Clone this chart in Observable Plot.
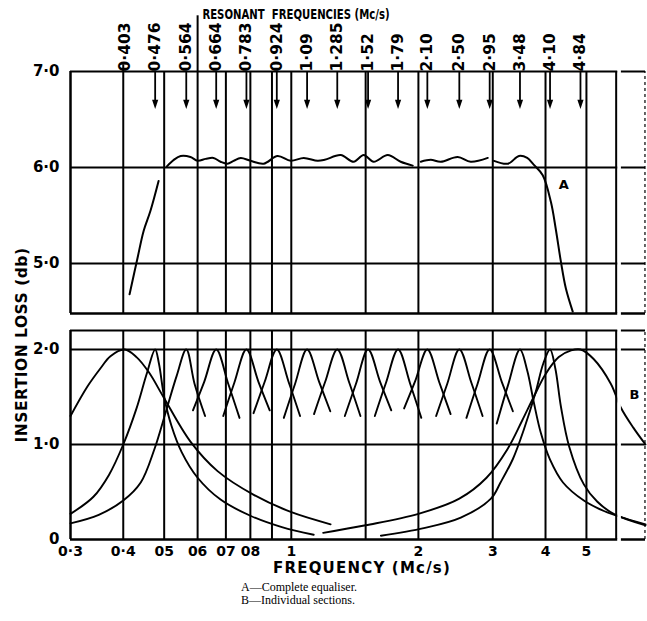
<!DOCTYPE html>
<html>
<head>
<meta charset="utf-8">
<script src="https://cdn.jsdelivr.net/npm/d3@7"></script>
<script src="https://cdn.jsdelivr.net/npm/@observablehq/plot@0.6"></script>
<style>
  body { margin: 0; background: #fff; }
  #fig { position: relative; width: 647px; height: 621px; background: #fff; overflow: hidden; }
  #top { position: absolute; left: 0; top: 0; }
  #bottom { position: absolute; left: 0; top: 322px; }
  .lab { position: absolute; white-space: nowrap; color: #000; font-family: "DejaVu Sans", sans-serif; font-weight: bold; }
  #title { left: 296px; top: 14px; transform: translate(-50%, -50%) scaleX(0.75); font-size: 13.5px; }
  #ylab { left: -128px; top: 335px; width: 300px; height: 20px; line-height: 20px; text-align: center;
          transform: rotate(-90deg); font-size: 15.5px; letter-spacing: 0.5px; }
  #xlab { left: 362px; top: 568px; transform: translate(-50%, -50%); font-size: 15px; letter-spacing: 1.2px; }
  #caption { position: absolute; left: 241px; top: 581px; font-family: "Liberation Serif", serif; font-size: 12px; line-height: 13px; color: #000; }
</style>
</head>
<body>
<div id="fig">
  <div id="top"></div>
  <div id="bottom"></div>
  <div class="lab" id="title">RESONANT&nbsp;&nbsp;FREQUENCIES (Mc/s)</div>
  <div class="lab" id="ylab">INSERTION LOSS (db)</div>
  <div class="lab" id="xlab">FREQUENCY (Mc/s)</div>
  <div id="caption">A—Complete equaliser.<br>B—Individual sections.</div>
</div>
<script>
// Frequency axis (Mc/s, logarithmic)
const xDomain = [0.3, 6.9];
const xGrid = [0.4, 0.5, 0.6, 0.7, 0.8, 0.9, 1, 1.5, 2, 3, 4, 5];
const xTicks = [0.3, 0.4, 0.5, 0.6, 0.7, 0.8, 1, 2, 3, 4, 5];
const xTickLabels = ["0·3", "0·4", "05", "06", "07", "08", "1", "2", "3", "4", "5"];
const breakAt = 5.88;          // broken-axis line
const breakGap = [5.93, 6.05]; // blank strip right of the break
const rightEdge = 6.88;

// Resonant frequencies of the sections (Mc/s)
const resonances = [0.403, 0.476, 0.564, 0.664, 0.783, 0.924, 1.09, 1.285, 1.52, 1.79, 2.10, 2.50, 2.95, 3.48, 4.10, 4.84];
const resonanceLabels = ["0·403", "0·476", "0·564", "0·664", "0·783", "0·924", "1·09", "1·285", "1·52", "1·79", "2·10", "2·50", "2·95", "3·48", "4·10", "4·84"];

// Upper panel: insertion loss of complete equaliser (db)
const topDomain = [4.48, 7.0];
const topLines = [7.0, 6.0, 5.0];
const topTicks = [7, 6, 5];
const topTickLabels = ["7·0", "6·0", "5·0"];
const arrowTop = 7.0, arrowShaftEnd = 6.69, arrowHeadAt = 6.655;

const curveA_rise = [[0.414, 4.68], [0.432, 5.05], [0.447, 5.34], [0.464, 5.55], [0.485, 5.86]];
const curveA_low = [[0.507, 6.01], [0.527, 6.08], [0.547, 6.12], [0.577, 6.11], [0.600, 6.07], [0.627, 6.09], [0.654, 6.10],
  [0.680, 6.06], [0.706, 6.04], [0.730, 6.07], [0.759, 6.10], [0.801, 6.07], [0.860, 6.04], [0.928, 6.12], [0.997, 6.07],
  [1.07, 6.10], [1.154, 6.07], [1.20, 6.08], [1.309, 6.13], [1.405, 6.06], [1.484, 6.13], [1.567, 6.06], [1.692, 6.13],
  [1.816, 6.06], [1.939, 6.02]];
const curveA_mid = [[2.026, 6.06], [2.139, 6.08], [2.259, 6.06], [2.478, 6.11], [2.66, 6.06], [2.92, 6.10]];
const curveA_high = [[3.02, 6.07], [3.26, 6.04], [3.46, 6.12], [3.62, 6.10], [3.75, 6.03], [3.94, 5.92], [4.12, 5.64],
  [4.23, 5.36], [4.35, 5.02], [4.47, 4.74], [4.64, 4.50]];
const labelA = {f: 4.30, v: 5.82, t: "A"};

// Lower panel: individual sections (db)
const bottomDomain = [0, 2.2];
const bottomLines = [2.2, 2.0, 1.0];
const bottomTicks = [2, 1, 0];
const bottomTickLabels = ["2·0", "1·0", "0"];
const labelB = {f: 6.32, v: 1.52, t: "B"};

const sec0403 = [[0.3, 1.30], [0.329, 1.61], [0.353, 1.80], [0.373, 1.93], [0.403, 2.0], [0.43, 1.92], [0.46, 1.76], [0.498, 1.50],
  [0.577, 1.03], [0.669, 0.72], [0.815, 0.47], [0.997, 0.29], [1.239, 0.16]];
const sec0476 = [[0.3, 0.27], [0.34, 0.45], [0.37, 0.68], [0.40, 1.0], [0.43, 1.38], [0.455, 1.75], [0.476, 2.0], [0.486, 1.85],
  [0.50, 1.5], [0.52, 1.2], [0.55, 0.92], [0.60, 0.65], [0.68, 0.42], [0.80, 0.25], [0.95, 0.13], [1.13, 0.05]];
const sec0564 = [[0.3, 0.17], [0.35, 0.26], [0.40, 0.41], [0.44, 0.60], [0.474, 0.95], [0.505, 1.35], [0.535, 1.72], [0.564, 2.0],
  [0.59, 1.64], [0.625, 1.30]];
const sec0664 = [[0.585, 1.36], [0.622, 1.66], [0.664, 2.0], [0.709, 1.64], [0.754, 1.28]];
const sec0783 = [[0.690, 1.30], [0.733, 1.65], [0.783, 2.0], [0.836, 1.66], [0.889, 1.36]];
const sec0924 = [[0.814, 1.33], [0.865, 1.66], [0.924, 2.0], [0.987, 1.65], [1.049, 1.30]];
const sec1090 = [[0.960, 1.28], [1.021, 1.64], [1.09, 2.0], [1.164, 1.66], [1.237, 1.35]];
const sec1285 = [[1.132, 1.32], [1.203, 1.66], [1.285, 2.0], [1.372, 1.65], [1.458, 1.30]];
const sec1520 = [[1.339, 1.30], [1.423, 1.64], [1.52, 2.0], [1.623, 1.66], [1.725, 1.36]];
const sec1790 = [[1.577, 1.30], [1.676, 1.65], [1.79, 2.0], [1.912, 1.64], [2.032, 1.28]];
const sec2100 = [[1.850, 1.38], [1.966, 1.67], [2.10, 2.0], [2.243, 1.65], [2.384, 1.32]];
const sec2500 = [[2.203, 1.30], [2.341, 1.64], [2.50, 2.0], [2.670, 1.65], [2.838, 1.30]];
const sec2950 = [[2.599, 1.28], [2.762, 1.64], [2.95, 2.0], [3.151, 1.66], [3.348, 1.35]];
const sec3480 = [[3.066, 1.22], [3.258, 1.62], [3.48, 2.0], [3.62, 1.78], [3.75, 1.45], [3.9, 1.12], [4.1, 0.84], [4.4, 0.60],
  [4.93, 0.41], [5.5, 0.30], [6.2, 0.22], [6.9, 0.16]];
const sec4100 = [[1.63, 0.04], [2.06, 0.12], [2.52, 0.23], [2.97, 0.43], [3.13, 0.60], [3.35, 0.85], [3.55, 1.15], [3.79, 1.55],
  [3.95, 1.85], [4.10, 2.0], [4.22, 1.80], [4.35, 1.40], [4.55, 0.98], [4.93, 0.58], [5.3, 0.40], [5.8, 0.27], [6.9, 0.15]];
const sec4840 = [[1.19, 0.07], [1.5, 0.15], [2.0, 0.27], [2.5, 0.43], [2.9, 0.65], [3.25, 0.95], [3.52, 1.25], [3.75, 1.50],
  [4.0, 1.74], [4.3, 1.92], [4.6, 1.99], [4.84, 2.0], [5.2, 1.90], [5.71, 1.64], [6.03, 1.39], [6.45, 1.18], [6.9, 1.0]];

// ---- tables built from the arrays above ----
const rows = (pts, key) => pts.map(([f, v]) => ({f, v, s: key}));
const curveARows = [
  ...rows(curveA_rise, "rise"), ...rows(curveA_low, "low"), ...rows(curveA_mid, "mid"), ...rows(curveA_high, "high")
];
const sections = {sec0403, sec0476, sec0564, sec0664, sec0783, sec0924, sec1090, sec1285, sec1520, sec1790,
  sec2100, sec2500, sec2950, sec3480, sec4100, sec4840};
const curveBRows = Object.entries(sections).flatMap(([k, pts]) => rows(pts, k));
const resRows = resonances.map((f, i) => ({f, label: resonanceLabels[i]}));
const arrowRows = resRows.slice(1); // the 0·403 marker falls on the 0·4 grid line
const xTickRows = xTicks.map((f, i) => ({f, label: xTickLabels[i]}));
const topTickRows = topTicks.map((v, i) => ({v, label: topTickLabels[i]}));
const bottomTickRows = bottomTicks.map((v, i) => ({v, label: bottomTickLabels[i]}));

// filled arrow head pointing down
const arrowHead = {
  draw(ctx, size) {
    const h = Math.sqrt(size);
    ctx.moveTo(-0.5 * h, -0.8 * h);
    ctx.lineTo(0.5 * h, -0.8 * h);
    ctx.lineTo(0, 0.7 * h);
    ctx.closePath();
  }
};

const font = "DejaVu Sans";
const common = {
  width: 647,
  marginLeft: 70,
  marginRight: 2,
  x: {type: "log", domain: xDomain, axis: null},
  style: {fontFamily: font, fontWeight: "bold", background: "white", overflow: "visible"}
};
const gridW = 2;

function breakMarks(domain) {
  const [lo, hi] = domain;
  const pad = (hi - lo) * 0.03;
  return [
    Plot.rect([{a: breakGap[0], b: breakGap[1]}], {x1: "a", x2: "b", y1: lo - pad, y2: hi + pad, fill: "white"}),
    Plot.ruleX([breakAt], {y1: lo, y2: hi, stroke: "black", strokeWidth: 2}),
    Plot.ruleX([rightEdge], {y1: lo, y2: hi, stroke: "black", strokeWidth: 1.2, strokeDasharray: "3,3"})
  ];
}

const topPlot = Plot.plot({
  ...common,
  height: 322,
  marginTop: 71,
  marginBottom: 9,
  y: {domain: topDomain, axis: null},
  marks: [
    Plot.ruleY(topLines, {stroke: "black", strokeWidth: gridW}),
    Plot.ruleY([topDomain[0]], {stroke: "black", strokeWidth: 2.5}),
    Plot.ruleX([xDomain[0]], {y1: topDomain[0], y2: topDomain[1], stroke: "black", strokeWidth: 2.5}),
    Plot.ruleX(xGrid, {y1: topDomain[0], y2: topDomain[1], stroke: "black", strokeWidth: gridW}),
    Plot.ruleX([0.6], {y1: 7.0, y2: 7.58, stroke: "black", strokeWidth: gridW}),
    Plot.ruleX([0.4], {y1: 7.0, y2: 7.07, stroke: "black", strokeWidth: gridW}),
    Plot.line(curveARows, {x: "f", y: "v", z: "s", curve: "catmull-rom", stroke: "black", strokeWidth: 2}),
    ...breakMarks(topDomain),
    Plot.ruleX(arrowRows, {x: "f", y1: arrowTop, y2: arrowShaftEnd, stroke: "black", strokeWidth: 1.8}),
    Plot.dot(arrowRows, {x: "f", y: arrowHeadAt, symbol: arrowHead, r: 3.5, fill: "black", stroke: "none"}),
    Plot.text(resRows, {x: "f", y: arrowTop, text: "label", rotate: -90, textAnchor: "start", dy: 0,
      fontSize: 15.5, fontWeight: "bold", fill: "black"}),
    Plot.text(topTickRows, {x: xDomain[0], y: "v", text: "label", textAnchor: "end", dx: -11,
      fontSize: 15, fontWeight: "bold", fill: "black"}),
    Plot.text([labelA], {x: "f", y: "v", text: "t", textAnchor: "start", fontSize: 13, fontWeight: "bold", fill: "black"})
  ]
});

const bottomPlot = Plot.plot({
  ...common,
  height: 258,
  marginTop: 8,
  marginBottom: 41,
  y: {domain: bottomDomain, axis: null},
  marks: [
    Plot.ruleY(bottomLines, {stroke: "black", strokeWidth: gridW}),
    Plot.ruleY([0], {stroke: "black", strokeWidth: 2.6}),
    Plot.ruleX([xDomain[0]], {y1: 0, y2: bottomDomain[1], stroke: "black", strokeWidth: 2.5}),
    Plot.ruleX(xGrid, {y1: 0, y2: bottomDomain[1], stroke: "black", strokeWidth: gridW}),
    Plot.line(curveBRows, {x: "f", y: "v", z: "s", curve: "catmull-rom", stroke: "black", strokeWidth: 1.9}),
    ...breakMarks(bottomDomain),
    Plot.text(bottomTickRows, {x: xDomain[0], y: "v", text: "label", textAnchor: "end", dx: -11,
      fontSize: 15, fontWeight: "bold", fill: "black"}),
    Plot.text(xTickRows, {x: "f", y: 0, text: "label", dy: 12, fontSize: 14, fontWeight: "bold", fill: "black"}),
    Plot.text([labelB], {x: "f", y: "v", text: "t", textAnchor: "start", fontSize: 13, fontWeight: "bold", fill: "black"})
  ]
});

document.getElementById("top").appendChild(topPlot);
document.getElementById("bottom").appendChild(bottomPlot);
</script>
</body>
</html>
